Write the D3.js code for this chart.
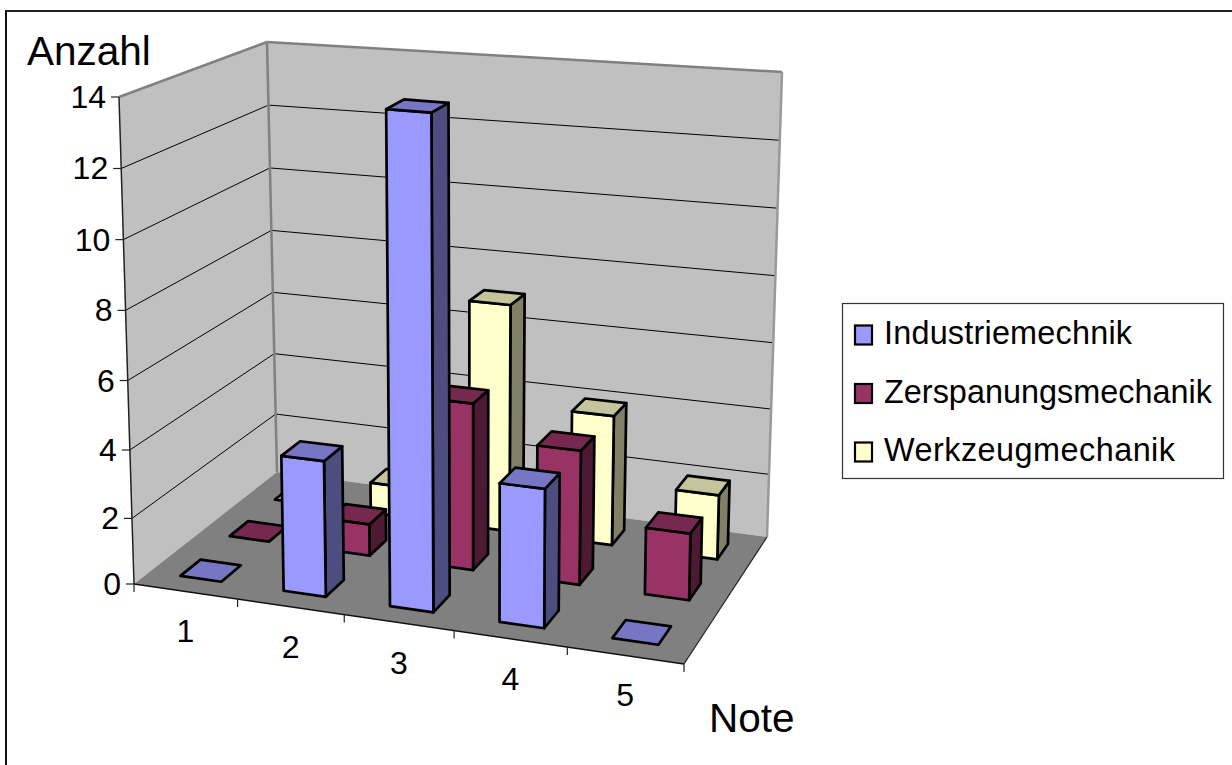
<!DOCTYPE html>
<html>
<head>
<meta charset="utf-8">
<script src="https://cdn.jsdelivr.net/npm/d3@7"></script>
<style>
  html, body { margin: 0; padding: 0; background: #fff; }
  svg { display: block; }
  text { font-family: "Liberation Sans", Arial, sans-serif; fill: #000; }
</style>
</head>
<body>
<svg id="chart" width="1232" height="765"></svg>
<script>
const notes = [1, 2, 3, 4, 5];
const seriesNames = ['Industriemechnik', 'Zerspanungsmechanik', 'Werkzeugmechanik'];
const industriemechanik = [0, 4, 14, 4, 0];
const zerspanungsmechanik = [0, 1, 5, 4, 2];
const werkzeugmechanik = [0, 1, 7, 4, 2];
const yTicks = [0, 2, 4, 6, 8, 10, 12, 14];

const seriesValues = [industriemechanik, zerspanungsmechanik, werkzeugmechanik];
const colors = [
  { front: '#9999ff', top: '#7676c5', side: '#4d4d80' },
  { front: '#993366', top: '#76284f', side: '#4d1933' },
  { front: '#ffffcc', top: '#c5c59d', side: '#808066' }
];

const svg = d3.select('#chart');

// floor corners on the page, then wall height and leftward lean in px at each of them
const floorQuad = [[134, 584], [684, 664], [767, 537], [277, 472]];
const wallHeights = [487, 521, 465, 430];
const wallLeans = [15, -8, -15, 10];

// unit square -> quad
function homography(q) {
  const [[x0, y0], [x1, y1], [x2, y2], [x3, y3]] = q;
  const dx1 = x1 - x2, dx2 = x3 - x2, sx = x0 - x1 + x2 - x3;
  const dy1 = y1 - y2, dy2 = y3 - y2, sy = y0 - y1 + y2 - y3;
  const det = dx1 * dy2 - dx2 * dy1;
  const g = (sx * dy2 - dx2 * sy) / det;
  const h = (dx1 * sy - sx * dy1) / det;
  return (u, v) => {
    const w = g * u + h * v + 1;
    return [
      ((x1 - x0 + g * x1) * u + (x3 - x0 + h * x3) * v + x0) / w,
      ((y1 - y0 + g * y1) * u + (y3 - y0 + h * y3) * v + y0) / w
    ];
  };
}
const floorAt = homography(floorQuad);

// slightly bigger steps higher up, as on the walls
const lift = d3.scalePow().exponent(1.03).domain([0, 14]).range([0, 1]);
const uScale = d3.scaleBand().domain(notes).range([0, 1]).paddingInner(0.6).paddingOuter(0.3);
const vScale = d3.scaleBand().domain(seriesNames).range([0, 1]).paddingInner(0.6).paddingOuter(0.3);

const corners = (q, u, v) => (q[0] * (1 - u) + q[1] * u) * (1 - v) + (q[3] * (1 - u) + q[2] * u) * v;

function project(u, v, value) {
  // middle of the floor sits a little further left than the plain homography gives
  const f = floorAt(u - 0.022 * u * (1 - u), v);
  const t = lift(value);
  return [f[0] - corners(wallLeans, u, v) * t, f[1] - corners(wallHeights, u, v) * t];
}
const path = pts => 'M' + pts.map(p => p.join(',')).join('L') + 'Z';
const face = (pts, fill, stroke, sw) => svg.append('path')
  .attr('d', path(pts)).attr('fill', fill)
  .attr('stroke', stroke || 'none').attr('stroke-width', sw || 0)
  .attr('stroke-linejoin', 'round');
const line = (a, b, stroke, sw) => svg.append('line')
  .attr('x1', a[0]).attr('y1', a[1]).attr('x2', b[0]).attr('y2', b[1])
  .attr('stroke', stroke).attr('stroke-width', sw);

// outer frame, only top and left are in the picture
line([6, 11], [1232, 11], '#222', 2);
line([6, 10], [6, 765], '#111', 2);

// walls and floor
const wallMax = yTicks[yTicks.length - 1];
face([project(0, 0, 0), project(0, 1, 0), project(0, 1, wallMax), project(0, 0, wallMax)], '#c0c0c0');
face([project(0, 1, 0), project(1, 1, 0), project(1, 1, wallMax), project(0, 1, wallMax)], '#c0c0c0');
face([project(0, 0, 0), project(1, 0, 0), project(1, 1, 0), project(0, 1, 0)], '#808080');

// gridlines
yTicks.filter(t => t > 0 && t < wallMax).forEach(t => {
  line(project(0, 0, t), project(0, 1, t), '#000', 1);
  line(project(0, 1, t), project(1, 1, t), '#000', 1);
});

// wall edges
line(project(0, 0, wallMax), project(0, 1, wallMax), '#808080', 2.5);
line(project(0, 1, wallMax), project(1, 1, wallMax), '#808080', 2.5);
line(project(0, 1, 0), project(0, 1, wallMax), '#808080', 2.5);
line(project(1, 1, 0), project(1, 1, wallMax), '#999', 2.5);

// axes
line(project(0, 0, 0), project(0, 0, wallMax), '#222', 1.5);
line(project(0, 0, 0), project(1, 0, 0), '#111', 1.5);
line(project(1, 0, 0), project(1, 1, 0), '#222', 1.2);

yTicks.forEach(t => {
  const p = project(0, 0, t);
  line([p[0] - 8, p[1]], p, '#222', 1.2);
  svg.append('text').attr('x', p[0] - 13).attr('y', p[1] + 11)
    .attr('text-anchor', 'end').attr('font-size', 32).text(t);
});

const step = uScale.step();
d3.range(notes.length + 1).forEach(i => {
  const p = project(i * step, 0, 0);
  line(p, [p[0], p[1] + 8], '#222', 1.2);
});
notes.forEach(n => {
  const p = project(uScale(n) + uScale.bandwidth() / 2, 0, 0);
  svg.append('text').attr('x', p[0]).attr('y', p[1] + 51)
    .attr('text-anchor', 'middle').attr('font-size', 32).text(n);
});

svg.append('text').attr('x', 27).attr('y', 65).attr('font-size', 40.5).text('Anzahl');
svg.append('text').attr('x', 709).attr('y', 732).attr('font-size', 40.5).text('Note');

// bars, back row first
d3.range(seriesNames.length - 1, -1, -1).forEach(s => {
  const v0 = vScale(seriesNames[s]), v1 = v0 + vScale.bandwidth();
  notes.forEach((n, i) => {
    const u0 = uScale(n), u1 = u0 + uScale.bandwidth();
    const val = seriesValues[s][i];
    const c = colors[s];
    if (val > 0) {
      face([project(u1, v0, 0), project(u1, v1, 0), project(u1, v1, val), project(u1, v0, val)], c.side, '#000', 2.7);
      face([project(u0, v0, 0), project(u1, v0, 0), project(u1, v0, val), project(u0, v0, val)], c.front, '#000', 2.7);
    }
    face([project(u0, v0, val), project(u1, v0, val), project(u1, v1, val), project(u0, v1, val)], c.top, '#000', 2.7);
  });
});

// legend
svg.append('rect').attr('x', 842.5).attr('y', 303.5).attr('width', 381).attr('height', 175)
  .attr('fill', '#fff').attr('stroke', '#333').attr('stroke-width', 1.2);
const legendY = d3.scalePoint().domain(seriesNames).range([335, 452]);
const legendLengths = [248, 328, 291];
seriesNames.forEach((name, s) => {
  const y = legendY(name);
  svg.append('rect').attr('x', 855).attr('y', y - 9.5).attr('width', 17).attr('height', 19)
    .attr('fill', colors[s].front).attr('stroke', '#000').attr('stroke-width', 2.2);
  svg.append('text').attr('x', 884).attr('y', y + 9).attr('font-size', 32.4)
    .attr('textLength', legendLengths[s]).text(name);
});
</script>
</body>
</html>
